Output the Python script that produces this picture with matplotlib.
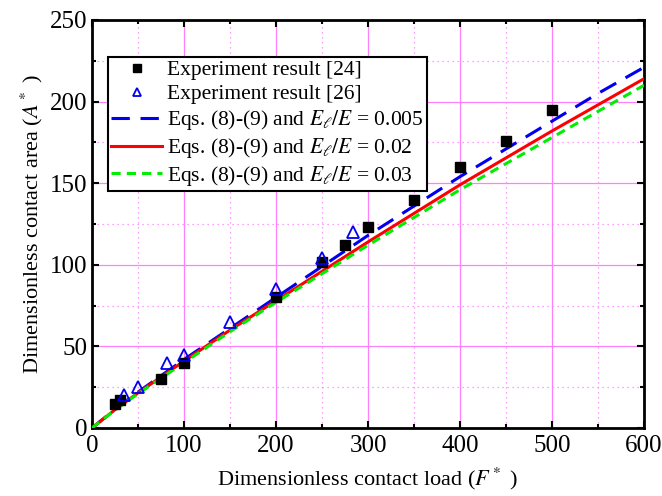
import matplotlib
matplotlib.use("Agg")
import matplotlib.pyplot as plt
from matplotlib.ticker import MultipleLocator

plt.rcParams['font.family'] = ['Liberation Serif', 'DejaVu Serif']
plt.rcParams['mathtext.fontset'] = 'stix'

# Experiment result [24]
exp24_F = [25, 30, 75, 100, 200, 250, 275, 300, 350, 400, 450, 500]
exp24_A = [15, 17, 30, 40, 80, 102, 112, 123, 140, 160, 176, 195]
# Experiment result [26]
exp26_F = [35, 50, 82, 100, 150, 200, 250, 284]
exp26_A = [20, 25, 40, 45, 65, 85, 104, 120]

# Model curves
curve_F = [0, 25, 50, 100, 150, 200, 250, 300, 350, 400, 450, 500, 550, 600]
A_0005 = [0, 11.5, 22, 42, 61, 80, 99, 118, 136, 154, 171, 188, 205, 221]
A_002 = [0, 11.2, 21.5, 41, 60, 78, 96, 114, 131.5, 149, 165.5, 182, 198, 214]
A_003 = [0, 11.0, 21, 40, 59, 77, 94.5, 112, 129, 146, 162, 178, 194, 210]

labels = ["Experiment result [24]", "Experiment result [26]",
          r"Eqs. (8)-(9) and $E_\ell/E$ = 0.005",
          r"Eqs. (8)-(9) and $E_\ell/E$ = 0.02",
          r"Eqs. (8)-(9) and $E_\ell/E$ = 0.03"]

fig = plt.figure(figsize=(6.62, 4.96), dpi=100)
ax = fig.add_axes([92/662, 68/496, 552/662, 408/496])

ax.plot(exp24_F, exp24_A, 's', color='black', markersize=7, label=labels[0], zorder=4)
ax.plot(exp26_F, exp26_A, '^', color='#0000ee', markerfacecolor='none', markersize=8.5,
        markeredgewidth=1.3, label=labels[1], zorder=5)
ax.plot(curve_F, A_0005, color='#0000ee', lw=2.2, dashes=(6, 3.5), label=labels[2], zorder=3)
ax.plot(curve_F, A_002, color='#ff0000', lw=2.2, label=labels[3], zorder=3)
ax.plot(curve_F, A_003, color='#00ee00', lw=2.2, dashes=(3, 2), label=labels[4], zorder=3)

ax.set_xlim(0, 600)
ax.set_ylim(0, 250)
ax.xaxis.set_major_locator(MultipleLocator(100))
ax.xaxis.set_minor_locator(MultipleLocator(50))
ax.yaxis.set_major_locator(MultipleLocator(50))
ax.yaxis.set_minor_locator(MultipleLocator(25))
ax.grid(which='major', color='#ff80ff', lw=0.9, ls='-', zorder=0)
ax.grid(which='minor', color='#ff80ff', lw=0.9, ls=(0, (1, 3)), zorder=0)
ax.set_axisbelow(True)

ax.tick_params(which='both', direction='in', top=True, right=True, labelsize=18, width=1.5)
ax.tick_params(axis='x', which='both', pad=5)
ax.tick_params(axis='y', which='both', pad=3)
ax.tick_params(which='major', length=5)
ax.tick_params(which='minor', length=3)
for s in ax.spines.values():
    s.set_linewidth(2)

ax.set_xlabel(r"Dimensionless contact load ($F^*$ )", fontsize=16, labelpad=6)
ax.set_ylabel(r"Dimensionless contact area ($A^*$ )", fontsize=16, labelpad=4)

leg = ax.legend(loc='upper left', bbox_to_anchor=(0.029, 0.909), fontsize=15.5, frameon=True,
                fancybox=False, edgecolor='black', framealpha=1, handlelength=2.35,
                handletextpad=0.25, labelspacing=0.18, borderpad=0.15, borderaxespad=0,
                markerscale=0.75)
leg.get_frame().set_linewidth(1.5)

fig.savefig("out.png", dpi=100)
